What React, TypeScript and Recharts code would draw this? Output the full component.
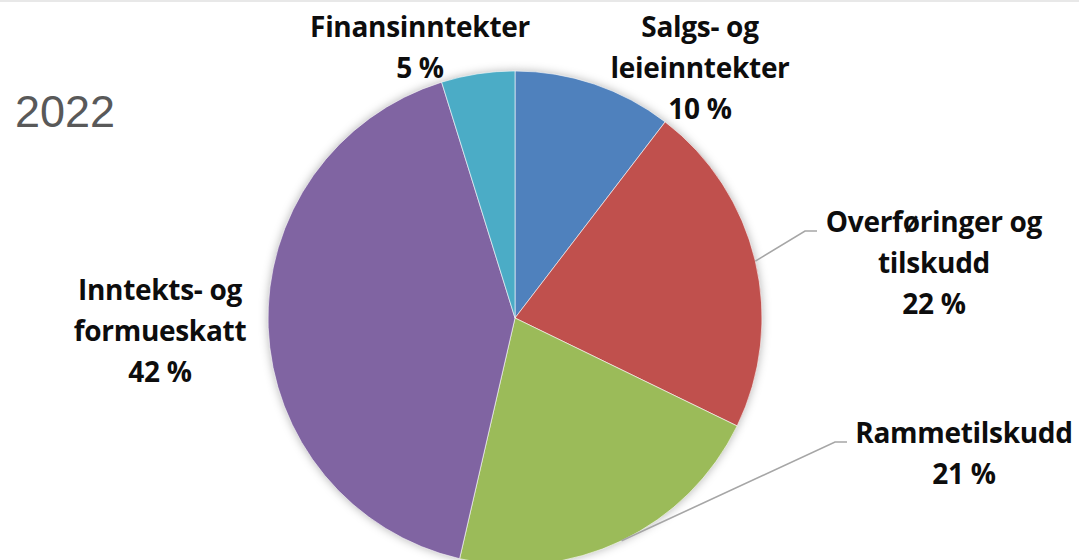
import { Cell, Pie, PieChart } from "recharts";

const names = [
  "Salgs- og leieinntekter",
  "Overføringer og tilskudd",
  "Rammetilskudd",
  "Inntekts- og formueskatt",
  "Finansinntekter",
];
const shares = [10.4, 21.8, 21.4, 41.6, 4.8];
const labelLines = [
  ["Salgs- og", "leieinntekter", "10 %"],
  ["Overføringer og", "tilskudd", "22 %"],
  ["Rammetilskudd", "21 %"],
  ["Inntekts- og", "formueskatt", "42 %"],
  ["Finansinntekter", "5 %"],
];
const colors = ["#4f81bd", "#c0504d", "#9bbb59", "#8064a2", "#4bacc6"];

const data = names.map((name, i) => ({ name, value: shares[i] }));

// label placement relative to pie centre: x centre, first baseline, leader line?
const labelSpots: { x: number; y: number; leader?: boolean }[] = [
  { x: 185, y: -281 },
  { x: 419, y: -86, leader: true },
  { x: 449, y: 125, leader: true },
  { x: -355, y: -18 },
  { x: -95, y: -281 },
];

const RAD = Math.PI / 180;
const LINE_H = 41;

function renderLabel(props: any) {
  const { cx, cy, midAngle, outerRadius, index } = props;
  const spot = labelSpots[index];
  const lines = labelLines[index];
  const tx = cx + spot.x;
  const ty = cy + spot.y;
  let leader = null;
  if (spot.leader) {
    const sx = cx + outerRadius * Math.cos(-midAngle * RAD);
    const sy = cy + outerRadius * Math.sin(-midAngle * RAD);
    const textLeft = tx - 112;
    leader = (
      <polyline
        points={`${sx},${sy} ${textLeft - 17},${ty - 1} ${textLeft - 5},${ty - 1}`}
        fill="none"
        stroke="#a6a6a6"
        strokeWidth={1.6}
      />
    );
  }
  return (
    <g key={`lbl-${index}`}>
      {leader}
      <text
        x={tx}
        y={ty}
        textAnchor="middle"
        fill="#0d0d0d"
        fontFamily="'Open Sans', 'Liberation Sans', sans-serif"
        fontWeight={700}
        fontSize={28}
        letterSpacing={-0.3}
      >
        {lines.map((l, j) => (
          <tspan key={j} x={tx} y={ty + j * LINE_H}>
            {l}
          </tspan>
        ))}
      </text>
    </g>
  );
}

export default function App() {
  return (
    <div
      style={{
        position: "absolute",
        left: 0,
        top: 0,
        width: 1079,
        height: 560,
        background: "#fff",
        borderTop: "2px solid #e8e8e8",
        boxSizing: "border-box",
        overflow: "hidden",
      }}
    >
      <div
        style={{
          position: "absolute",
          left: 15,
          top: 84,
          fontFamily: "'Liberation Sans', Arial, sans-serif",
          fontSize: 45,
          color: "#595959",
        }}
      >
        2022
      </div>
      <div style={{ position: "absolute", left: 0, top: -2 }}>
        <PieChart width={1079} height={560} margin={{ top: 0, right: 0, bottom: 0, left: 0 }}>
          <Pie
            data={data}
            dataKey="value"
            nameKey="name"
            cx={515}
            cy={318}
            outerRadius={247}
            startAngle={90}
            endAngle={-270}
            stroke="none"
            label={false}
            labelLine={false}
            isAnimationActive={false}
            style={{ filter: "blur(5px)" }}
          >
            {data.map((d) => (
              <Cell key={d.name} fill="rgba(0,0,0,0.3)" />
            ))}
          </Pie>
          <Pie
            data={data}
            dataKey="value"
            nameKey="name"
            cx={515}
            cy={318}
            outerRadius={247}
            startAngle={90}
            endAngle={-270}
            stroke="#ffffff"
            strokeWidth={0.6}
            label={renderLabel}
            labelLine={false}
            isAnimationActive={false}
          >
            {data.map((d, i) => (
              <Cell key={d.name} fill={colors[i]} />
            ))}
          </Pie>
        </PieChart>
      </div>
    </div>
  );
}
